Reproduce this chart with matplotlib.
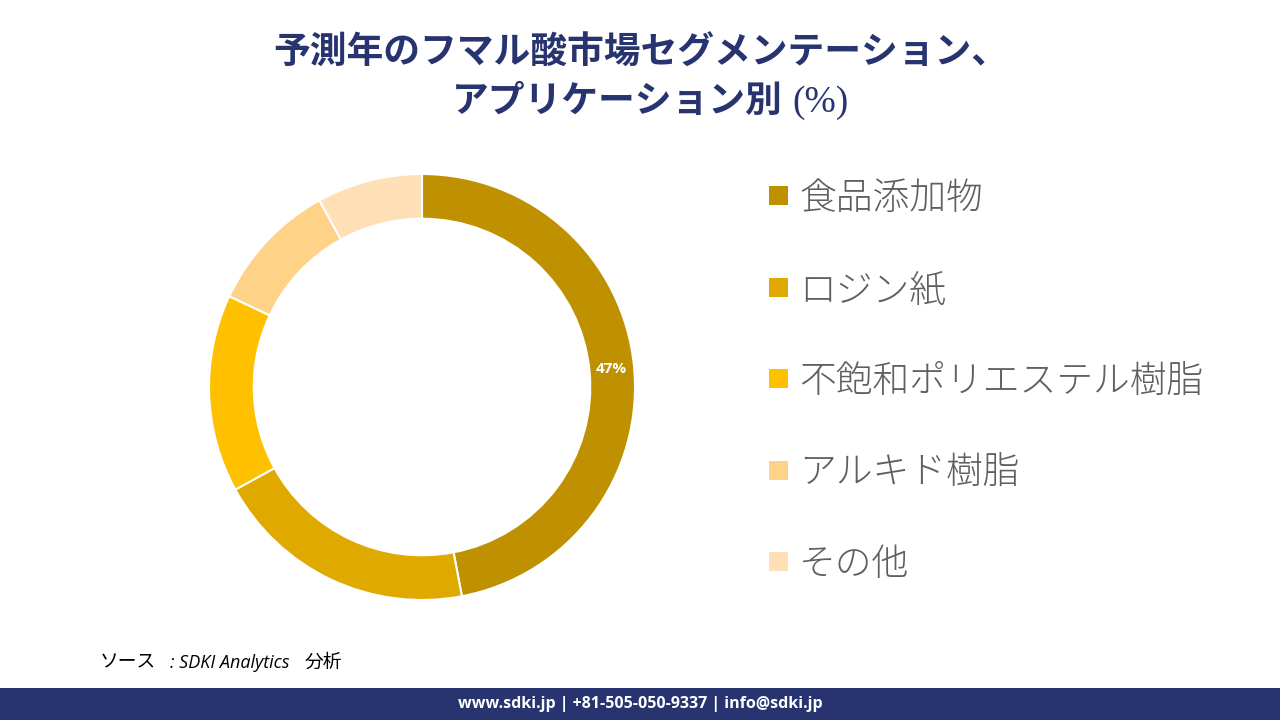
import matplotlib.pyplot as plt
from matplotlib.patches import Rectangle

plt.rcParams['font.family'] = ['Noto Sans CJK JP', 'DejaVu Sans']

# Data
categories = ['食品添加物', 'ロジン紙', '不飽和ポリエステル樹脂', 'アルキド樹脂', 'その他']
shares = [47, 20, 15, 10, 8]
colors = ['#BF9000', '#DFA900', '#FFC000', '#FFD387', '#FFE0B6']

navy = '#283470'

fig = plt.figure(figsize=(12.8, 7.2), dpi=100)
fig.patch.set_facecolor('white')

# Donut
ax = fig.add_axes([209 / 1280, 120 / 720, 426 / 1280, 426 / 720])
wedges, texts, autotexts = ax.pie(
    shares, colors=colors, startangle=90, counterclock=False,
    radius=1.0, wedgeprops=dict(width=0.21, edgecolor='white', linewidth=1.5),
    autopct=lambda p: f'{p:.0f}%' if p > 40 else '', pctdistance=0.895,
    textprops=dict(color='white', fontsize=11, fontweight='bold', family=['Open Sans', 'DejaVu Sans']))
ax.set_xlim(-1, 1)
ax.set_ylim(-1, 1)
ax.set_aspect('equal')
ax.axis('off')

# Legend (manual)
row_y = [195, 287, 378, 470, 561]
for cat, col, y in zip(categories, colors, row_y):
    fig.patches.append(Rectangle((769 / 1280, 1 - (y + 10) / 720), 19 / 1280, 19 / 720,
                                 transform=fig.transFigure, facecolor=col, edgecolor='none'))
    fig.text(799 / 1280, 1 - (y + 4) / 720, cat, fontsize=26.5, color='#5f5f5f',
             fontweight='light', ha='left', va='center')

# Title
fig.text(641 / 1280, 1 - 53 / 720, '予測年のフマル酸市場セグメンテーション、',
         fontsize=26.5, fontweight='bold', color=navy, ha='center', va='center')
fig.text(452 / 1280, 1 - 101 / 720, 'アプリケーション別',
         fontsize=26.5, fontweight='bold', color=navy, ha='left', va='center')
fig.text(792 / 1280, 1 - 103 / 720, '(%)',
         fontsize=27, color=navy, ha='left', va='center',
         family=['Liberation Serif', 'DejaVu Serif'])

# Source
fig.text(100 / 1280, 1 - 662 / 720, 'ソース', fontsize=13.5, style='italic',
         color='black', ha='left', va='center')
fig.text(170 / 1280, 1 - 663 / 720, ': SDKI Analytics', fontsize=13, style='italic',
         color='black', ha='left', va='center', family=['Open Sans', 'DejaVu Sans'])
fig.text(305 / 1280, 1 - 662 / 720, '分析', fontsize=13.5, style='italic',
         color='black', ha='left', va='center')

# Footer band
fig.patches.append(Rectangle((0, 0), 1, 32 / 720, transform=fig.transFigure,
                             facecolor=navy, edgecolor='none'))
fig.text(640 / 1280, 16 / 720, 'www.sdki.jp | +81-505-050-9337 | info@sdki.jp',
         fontsize=11.5, fontweight='bold', color='white', ha='center', va='center',
         family=['Open Sans', 'DejaVu Sans'])

fig.savefig('out.png', dpi=100, facecolor='white')
